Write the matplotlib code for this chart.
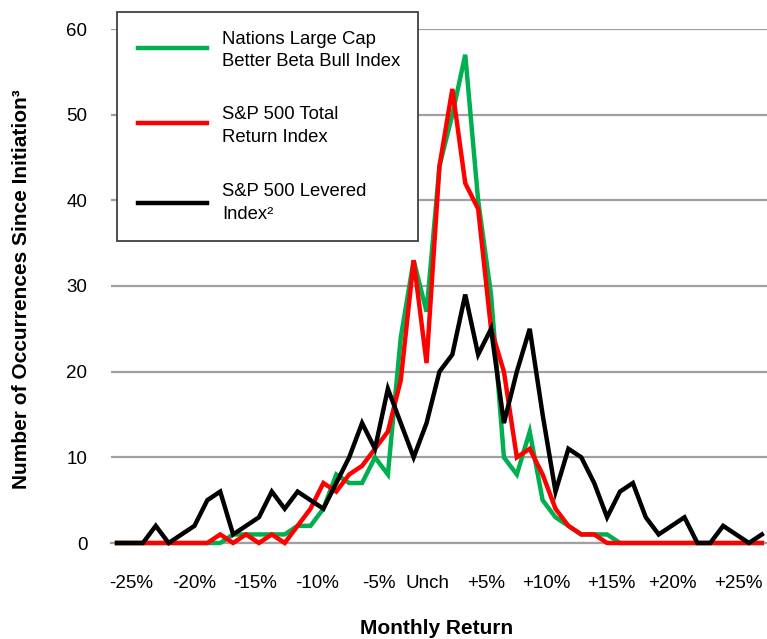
import matplotlib
matplotlib.use("Agg")
import matplotlib.pyplot as plt
from matplotlib.lines import Line2D
from matplotlib.patches import Rectangle
import numpy as np

plt.rcParams['font.family'] = ['Liberation Sans', 'DejaVu Sans']

# ---- data (51 return buckets) ----
tick_labels = ["-25%", "-20%", "-15%", "-10%", "-5%", "Unch",
               "+5%", "+10%", "+15%", "+20%", "+25%"]

nations_bull = [0, 0, 0, 0, 0, 0, 0, 0, 0, 1,
                1, 1, 1, 1, 2, 2, 4, 8, 7, 7,
                10, 8, 24, 33, 27, 44, 50, 57, 40, 29,
                10, 8, 13, 5, 3, 2, 1, 1, 1, 0,
                0, 0, 0, 0, 0, 0, 0, 0, 0, 0, 0]

sp500_total = [0, 0, 0, 0, 0, 0, 0, 0, 1, 0,
               1, 0, 1, 0, 2, 4, 7, 6, 8, 9,
               11, 13, 19, 33, 21, 44, 53, 42, 39, 25,
               20, 10, 11, 8, 4, 2, 1, 1, 0, 0,
               0, 0, 0, 0, 0, 0, 0, 0, 0, 0, 0]

sp500_levered = [0, 0, 0, 2, 0, 1, 2, 5, 6, 1,
                 2, 3, 6, 4, 6, 5, 4, 7, 10, 14,
                 11, 18, 14, 10, 14, 20, 22, 29, 22, 25,
                 14, 20, 25, 15, 6, 11, 10, 7, 3, 6,
                 7, 3, 1, 2, 3, 0, 0, 2, 1, 0, 1]

series_names = ["Nations Large Cap\nBetter Beta Bull Index",
                "S&P 500 Total\nReturn Index",
                "S&P 500 Levered\nIndex\u00b2"]
series_colors = ["#00B050", "#FF0000", "#000000"]

# ---- figure ----
W, H = 767, 639
fig = plt.figure(figsize=(W / 100, H / 100), dpi=100)

def fx(px):
    return px / W

def fy(py):
    return 1 - py / H

ax = fig.add_axes([fx(111), fy(543), fx(767) - fx(111), fy(29) - fy(543)])

x = np.arange(len(nations_bull))
for vals, col in zip([nations_bull, sp500_total, sp500_levered], series_colors):
    ax.plot(x, vals, color=col, lw=3.2, solid_joinstyle='miter', clip_on=False, zorder=3)

ax.set_ylim(0, 60)
ax.set_xlim(-0.47, 50.4)
ax.set_yticks(np.arange(0, 61, 10))
ax.yaxis.grid(True, color='#A0A0A0', lw=1.6)
ax.set_axisbelow(True)
for s in ['left', 'right', 'top']:
    ax.spines[s].set_visible(False)
ax.spines['bottom'].set_color('#A0A0A0')
ax.spines['bottom'].set_linewidth(1.6)

tick_px = [131, 194, 255, 317, 379, 428, 486, 546, 611, 673, 739]
ax.set_xticks([(p - 117) / 12.9 for p in tick_px])
ax.set_xticklabels(tick_labels)
ax.tick_params(axis='x', length=0, pad=23, labelsize=13.5)
ax.tick_params(axis='y', length=0, pad=17, labelsize=13.5)

fig.text(fx(437), fy(628), "Monthly Return", ha='center', va='center',
         fontsize=15, fontweight='bold')
fig.text(fx(22), fy(289), "Number of Occurrences Since Initiation\u00b3",
         ha='center', va='center', rotation=90, fontsize=15, fontweight='bold')

# ---- legend box ----
fig.add_artist(Rectangle((fx(117), fy(241)), fx(418) - fx(117), fy(12) - fy(241),
                         transform=fig.transFigure, facecolor='white',
                         edgecolor='#404040', lw=1.3, zorder=5))
line_y = [48, 123, 203]
text_y = [50.5, 126, 203]
for name, col, ly, ty in zip(series_names, series_colors, line_y, text_y):
    fig.add_artist(Line2D([fx(138), fx(207)], [fy(ly), fy(ly)],
                          transform=fig.transFigure, color=col, lw=3.2, zorder=6))
    fig.text(fx(222), fy(ty), name, ha='left', va='center', fontsize=13.3,
             linespacing=1.4, zorder=7)

fig.savefig("out.png", dpi=100)
